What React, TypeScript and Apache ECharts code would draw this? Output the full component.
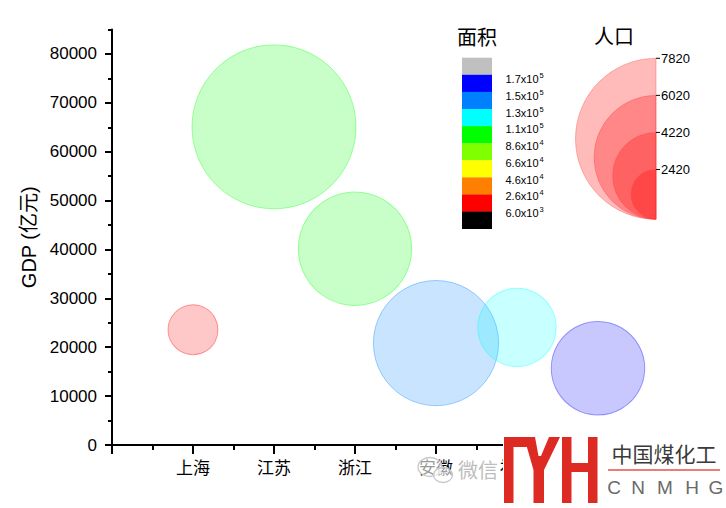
import React, { useEffect, useRef } from 'react';
import * as echarts from 'echarts';

// ---- data ----
const provinces = ['上海', '江苏', '浙江', '安徽', '福建', '江西'];
const xPositions = [1, 2, 3, 4, 5, 6];
const gdp = [23568, 65088, 40154, 20849, 24056, 15709]; // 亿元
const population = [2426, 7960, 5508, 6083, 3806, 4542]; // 万人
const area = [6340, 107200, 105500, 139600, 124000, 166900]; // km²

const yMajorTicks = [0, 10000, 20000, 30000, 40000, 50000, 60000, 70000, 80000];
const yMinorTicks = [5000, 15000, 25000, 35000, 45000, 55000, 65000, 75000, 85000];
const xMajorTicks = [0, 1, 2, 3, 4, 5, 6, 7];
const xMinorTicks = [0.5, 1.5, 2.5, 3.5, 4.5, 5.5, 6.5, 7.5];

// colour levels for 面积 (ascending), colours from below first level to above last
const areaLevels = [6000, 26000, 46000, 66000, 86000, 110000, 130000, 150000, 170000];
const areaColors = ['#000000', '#ff0000', '#ff8000', '#ffff00', '#80ff00', '#00ff00', '#00ffff', '#0080ff', '#0000ff', '#c0c0c0'];

const popLegendValues = [7820, 6020, 4220, 2420];

// ---- style constants ----
const DIAM_PER_UNIT = 0.02059; // bubble diameter (px) per 万人
const FONT_LAT = 'Liberation Sans, Arial, sans-serif';
const FONT_CJK = 'Noto Sans CJK SC, sans-serif';

function hexToRgba(hex: string, a: number) {
  const n = parseInt(hex.slice(1), 16);
  return `rgba(${(n >> 16) & 255},${(n >> 8) & 255},${n & 255},${a})`;
}
function areaColor(v: number) {
  let i = 0;
  while (i < areaLevels.length && v >= areaLevels[i]) i++;
  return areaColors[i];
}
function levelParts(v: number) {
  const e = Math.floor(Math.log10(v));
  const m = v / Math.pow(10, e);
  return { m: m.toFixed(1) + 'x10', e: String(e) };
}

function buildOption() {
  const seriesData = xPositions.map((x, i) => {
    const c = areaColor(area[i]);
    return {
      name: provinces[i],
      value: [x, gdp[i], population[i], area[i]],
      itemStyle: { color: hexToRgba(c, 0.27), borderColor: hexToRgba(c, 0.45), borderWidth: 1 },
    };
  });

  const graphics: any[] = [];

  // 面积 legend
  const boxX = 462, boxW = 30, boxTop = 57.7, boxH = 17.1;
  const colorsTopDown = areaColors.slice().reverse();
  graphics.push({
    type: 'text', x: 477, y: 36,
    style: { text: '面积', fontSize: 20, fontFamily: FONT_CJK, fill: '#000', align: 'center', verticalAlign: 'middle' },
  });
  colorsTopDown.forEach((c, i) => {
    graphics.push({ type: 'rect', shape: { x: boxX, y: boxTop + i * boxH, width: boxW, height: boxH + 0.3 }, style: { fill: c } });
  });
  const levelsTopDown = areaLevels.slice().reverse();
  levelsTopDown.forEach((lv, i) => {
    const p = levelParts(lv);
    const cy = 79.2 + i * 16.72;
    graphics.push({
      type: 'text', x: 538.5, y: cy,
      style: { text: p.m, fontSize: 11, fontFamily: FONT_LAT, fill: '#000', align: 'right', verticalAlign: 'middle' },
    });
    graphics.push({
      type: 'text', x: 539.5, y: cy - 3.5,
      style: { text: p.e, fontSize: 7.5, fontFamily: FONT_LAT, fill: '#000', align: 'left', verticalAlign: 'middle' },
    });
  });

  // 人口 legend
  const pcx = 656, pBottom = 219.3;
  graphics.push({
    type: 'text', x: 614, y: 35,
    style: { text: '人口', fontSize: 20, fontFamily: FONT_CJK, fill: '#000', align: 'center', verticalAlign: 'middle' },
  });
  popLegendValues.forEach((v) => {
    const r = (v * DIAM_PER_UNIT) / 2;
    graphics.push({
      type: 'sector',
      shape: { cx: pcx, cy: pBottom - r, r, r0: 0, startAngle: Math.PI / 2, endAngle: (3 * Math.PI) / 2, clockwise: true },
      style: { fill: 'rgba(255,0,0,0.27)', stroke: 'rgba(255,60,60,0.35)', lineWidth: 1 },
    });
    const ty = pBottom - 2 * r;
    graphics.push({ type: 'line', shape: { x1: pcx, y1: ty, x2: pcx + 4, y2: ty }, style: { stroke: '#000', lineWidth: 1 } });
    graphics.push({
      type: 'text', x: pcx + 5, y: ty,
      style: { text: String(v), fontSize: 13, fontFamily: FONT_LAT, fill: '#000', align: 'left', verticalAlign: 'middle' },
    });
  });

  // watermark (微信)
  graphics.push({ type: 'ellipse', z: 50, shape: { cx: 430, cy: 467, rx: 12, ry: 9.5 }, style: { fill: 'rgba(255,255,255,0.6)', stroke: '#c8c8c8', lineWidth: 1.3 } });
  graphics.push({ type: 'ellipse', z: 51, shape: { cx: 443, cy: 475, rx: 9.5, ry: 7.5 }, style: { fill: 'rgba(255,255,255,0.6)', stroke: '#c8c8c8', lineWidth: 1.3 } });
  graphics.push({
    type: 'text', z: 52, x: 458, y: 469,
    style: { text: '微信', fontSize: 20, fontFamily: FONT_CJK, fill: '#bdbdbd', align: 'left', verticalAlign: 'middle' },
  });

  // logo
  const red = '#dd2a22';
  graphics.push({ type: 'rect', z: 60, shape: { x: 503, y: 437, width: 223, height: 71 }, style: { fill: '#fff' } });
  graphics.push({ type: 'rect', z: 61, shape: { x: 504, y: 437, width: 9.5, height: 66 }, style: { fill: red } });
  graphics.push({ type: 'rect', z: 61, shape: { x: 504, y: 437, width: 28, height: 10 }, style: { fill: red } });
  graphics.push({
    type: 'polygon', z: 61,
    shape: { points: [[524, 437], [535, 437], [538.5, 456], [541, 456], [549, 437], [560, 437], [544, 470], [544, 503], [533.5, 503], [533.5, 470]] },
    style: { fill: red },
  });
  graphics.push({ type: 'rect', z: 61, shape: { x: 562, y: 437, width: 9.5, height: 66 }, style: { fill: red } });
  graphics.push({ type: 'rect', z: 61, shape: { x: 588, y: 437, width: 9.5, height: 66 }, style: { fill: red } });
  graphics.push({ type: 'rect', z: 61, shape: { x: 571, y: 463, width: 17, height: 9 }, style: { fill: red } });
  graphics.push({
    type: 'text', z: 62, x: 664, y: 453,
    style: { text: '中国煤化工', fontSize: 21, fontFamily: FONT_CJK, fill: '#3a3a3a', align: 'center', verticalAlign: 'middle' },
  });
  graphics.push({ type: 'line', z: 62, shape: { x1: 608, y1: 470, x2: 720, y2: 470 }, style: { stroke: '#e3524c', lineWidth: 1.5 } });
  const letters = ['C', 'N', 'M', 'H', 'G'];
  const letterX = [614, 638, 665, 692, 716];
  letters.forEach((l, i) => {
    graphics.push({
      type: 'text', z: 62, x: letterX[i], y: 487,
      style: { text: l, fontSize: 19, fontFamily: FONT_LAT, fill: '#6a6a6a', align: 'center', verticalAlign: 'middle' },
    });
  });

  const axisLineStyle = { color: '#000', width: 2 };

  return {
    animation: false,
    grid: { left: 112, top: 29.5, width: 607.5, height: 415.5, containLabel: false },
    xAxis: [
      {
        type: 'value', min: 0, max: 7.5, position: 'bottom',
        axisLine: { show: true, onZero: false, lineStyle: axisLineStyle },
        axisTick: { show: true, customValues: xMajorTicks, length: 9, lineStyle: axisLineStyle },
        axisLabel: {
          customValues: xPositions, margin: 13, fontSize: 17, fontFamily: FONT_CJK, color: '#000',
          formatter: (v: number) => provinces[Math.round(v) - 1] ?? '',
        },
        splitLine: { show: false },
      },
      {
        type: 'value', min: 0, max: 7.5, position: 'bottom',
        axisLine: { show: false, onZero: false },
        axisTick: { show: true, customValues: xMinorTicks, length: 5, lineStyle: axisLineStyle },
        axisLabel: { show: false },
        splitLine: { show: false },
      },
    ],
    yAxis: [
      {
        type: 'value', min: 0, max: 85000, position: 'left',
        name: 'GDP (亿元)', nameLocation: 'middle', nameGap: 68,
        nameTextStyle: { fontSize: 20, fontFamily: 'Liberation Sans, Noto Sans CJK SC, sans-serif', color: '#000' },
        axisLine: { show: true, onZero: false, lineStyle: axisLineStyle },
        axisTick: { show: true, customValues: yMajorTicks, length: 7, lineStyle: axisLineStyle },
        axisLabel: {
          customValues: yMajorTicks, margin: 15, fontSize: 17, fontFamily: FONT_LAT, color: '#000',
          formatter: (v: number) => String(v),
        },
        splitLine: { show: false },
      },
      {
        type: 'value', min: 0, max: 85000, position: 'left',
        axisLine: { show: false, onZero: false },
        axisTick: { show: true, customValues: yMinorTicks, length: 4, lineStyle: axisLineStyle },
        axisLabel: { show: false },
        splitLine: { show: false },
      },
    ],
    series: [
      {
        type: 'scatter',
        xAxisIndex: 0,
        yAxisIndex: 0,
        data: seriesData,
        symbol: 'circle',
        symbolSize: (val: number[]) => val[2] * DIAM_PER_UNIT,
        emphasis: { disabled: true },
        clip: false,
      },
    ],
    graphic: { elements: graphics },
  };
}

export default function App() {
  const ref = useRef<HTMLDivElement>(null);
  useEffect(() => {
    if (!ref.current) return;
    const chart = echarts.init(ref.current, null, { renderer: 'svg' });
    chart.setOption(buildOption() as any);
    return () => chart.dispose();
  }, []);
  return <div ref={ref} style={{ position: 'fixed', left: 0, top: 0, width: 726, height: 508, background: '#fff' }} />;
}
